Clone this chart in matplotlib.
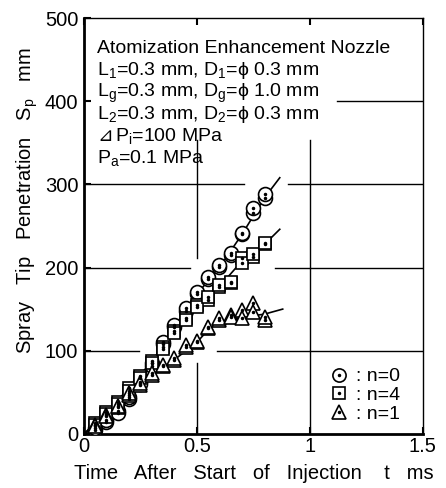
import matplotlib
matplotlib.use("Agg")
import matplotlib.pyplot as plt
from matplotlib.lines import Line2D
from matplotlib.legend_handler import HandlerTuple

plt.rcParams['font.family'] = ['Liberation Sans', 'DejaVu Sans']
plt.rcParams['mathtext.fontset'] = 'custom'
plt.rcParams['mathtext.rm'] = 'Liberation Sans'
plt.rcParams['mathtext.it'] = 'Liberation Sans'
plt.rcParams['mathtext.default'] = 'regular'

# time after start of injection, ms
t = [0.05, 0.10, 0.15, 0.20, 0.25, 0.30, 0.35, 0.40,
     0.45, 0.50, 0.55, 0.60, 0.65, 0.70, 0.75, 0.80]

# spray tip penetration, mm (two shots per condition)
s_n0_a = [5, 14, 27, 42, 62, 85, 108, 128, 148, 168, 186, 201, 215, 240, 265, 284]
s_n0_b = [7, 17, 25, 44, 60, 82, 110, 131, 151, 170, 189, 203, 218, 242, 272, 288]
s_n4_a = [13, 26, 38, 55, 69, 87, 105, 124, 139, 155, 161, 177, 181, 211, 213, 228]
s_n4_b = [11, 24, 36, 52, 67, 85, 102, 121, 137, 152, 164, 179, 183, 205, 216, 230]
s_n1_a = [11, 23, 32, 47, 59, 71, 81, 89, 105, 110, 127, 137, 143, 149, 157, 137]
s_n1_b = [9, 21, 34, 49, 61, 73, 83, 91, 107, 112, 129, 139, 141, 139, 147, 140]

# hand-drawn trend lines
fit_t0 = [0, 0.1, 0.2, 0.3, 0.4, 0.5, 0.6, 0.7, 0.8, 0.867]
fit_s0 = [0, 15, 42, 85, 128, 168, 200, 240, 284, 308]
fit_t4 = [0, 0.1, 0.2, 0.3, 0.4, 0.5, 0.6, 0.7, 0.8, 0.867]
fit_s4 = [0, 26, 55, 87, 124, 155, 177, 208, 228, 246]
fit_t1 = [0, 0.1, 0.2, 0.3, 0.4, 0.5, 0.55, 0.6, 0.7, 0.8, 0.88]
fit_s1 = [0, 22, 47, 71, 89, 110, 125, 135, 140, 144, 150]

notes = ["Atomization Enhancement Nozzle",
         "L$_1$=0.3 mm, D$_1$=$\\phi$ 0.3 mm",
         "L$_g$=0.3 mm, D$_g$=$\\phi$ 1.0 mm",
         "L$_2$=0.3 mm, D$_2$=$\\phi$ 0.3 mm",
         "P$_i$=100 MPa",
         "P$_a$=0.1 MPa"]

fig = plt.figure(figsize=(4.46, 4.88), dpi=100)
ax = fig.add_axes([0.188, 0.111, 0.76, 0.852])

# broken grid lines
gk = dict(color='black', lw=1.0, zorder=1)
ax.plot([1.12, 1.5], [400, 400], **gk)
ax.plot([0, 0.71], [300, 300], **gk)
ax.plot([0.905, 1.5], [300, 300], **gk)
ax.plot([0, 0.47], [200, 200], **gk)
ax.plot([0.845, 1.5], [200, 200], **gk)
ax.plot([0, 0.245], [100, 100], **gk)
ax.plot([0.59, 1.5], [100, 100], **gk)
ax.plot([0.5, 0.5], [353, 211], **gk)
ax.plot([0.5, 0.5], [85, 0], **gk)
ax.plot([1.0, 1.0], [353, 0], **gk)

ax.plot(fit_t0, fit_s0, color='black', lw=1.2, zorder=2)
ax.plot(fit_t4, fit_s4, color='black', lw=1.2, zorder=2)
ax.plot(fit_t1, fit_s1, color='black', lw=1.2, zorder=2)

mk = dict(ls='none', mfc='white', mec='black', mew=1.2, zorder=3)
dk = dict(ls='none', marker='o', ms=1.5, color='black', zorder=4)
for s in (s_n0_a, s_n0_b):
    ax.plot(t, s, marker='o', ms=10, **mk)
    ax.plot(t, s, **dk)
for s in (s_n4_a, s_n4_b):
    ax.plot(t, s, marker='s', ms=9, **mk)
    ax.plot(t, s, **dk)
for s in (s_n1_a, s_n1_b):
    ax.plot(t, s, marker='^', ms=10, **mk)
    ax.plot(t, s, **dk)

ax.set_xlim(0, 1.5)
ax.set_ylim(0, 500)
ax.set_xticks([0, 0.5, 1, 1.5])
ax.set_xticklabels(['0', '0.5', '1', '1.5'])
ax.set_yticks([0, 100, 200, 300, 400, 500])
ax.tick_params(direction='in', length=5, width=1.5, labelsize=14.5, top=True)
ax.tick_params(axis='x', pad=2)
ax.tick_params(axis='y', pad=4)
ax.spines['left'].set_linewidth(2)
ax.spines['bottom'].set_linewidth(2)
ax.spines['top'].set_linewidth(1)
ax.spines['right'].set_linewidth(1)

ax.set_xlabel("Time   After   Start   of   Injection    t   ms", fontsize=14.5,
              labelpad=6)
ax.set_ylabel("Spray   Tip   Penetration   S$_p$   mm", fontsize=14.5)
ax.yaxis.set_label_coords(-0.13, 0.56)

for i, line in enumerate(notes):
    y = 0.916 - i * 0.053
    x = 0.04
    if i == 4:
        ax.text(x, y, "\u22bf", transform=ax.transAxes, fontsize=13.5,
                va='baseline', ha='left', family='DejaVu Sans')
        x = 0.091
    ax.text(x, y, line, transform=ax.transAxes,
            fontsize=14, va='baseline', ha='left')

def handle(m, size):
    return (Line2D([], [], marker=m, ms=size, **mk),
            Line2D([], [], **dk))

ax.legend([handle('o', 9.5), handle('s', 8.5), handle('^', 9.5)],
          [': n=0', ': n=4', ': n=1'],
          handler_map={tuple: HandlerTuple(ndivide=1, pad=0)},
          loc='lower right', bbox_to_anchor=(0.985, -0.015), frameon=False,
          fontsize=14, handlelength=1.0, handletextpad=0.4, labelspacing=0.05)

fig.savefig("out.png", dpi=100)
